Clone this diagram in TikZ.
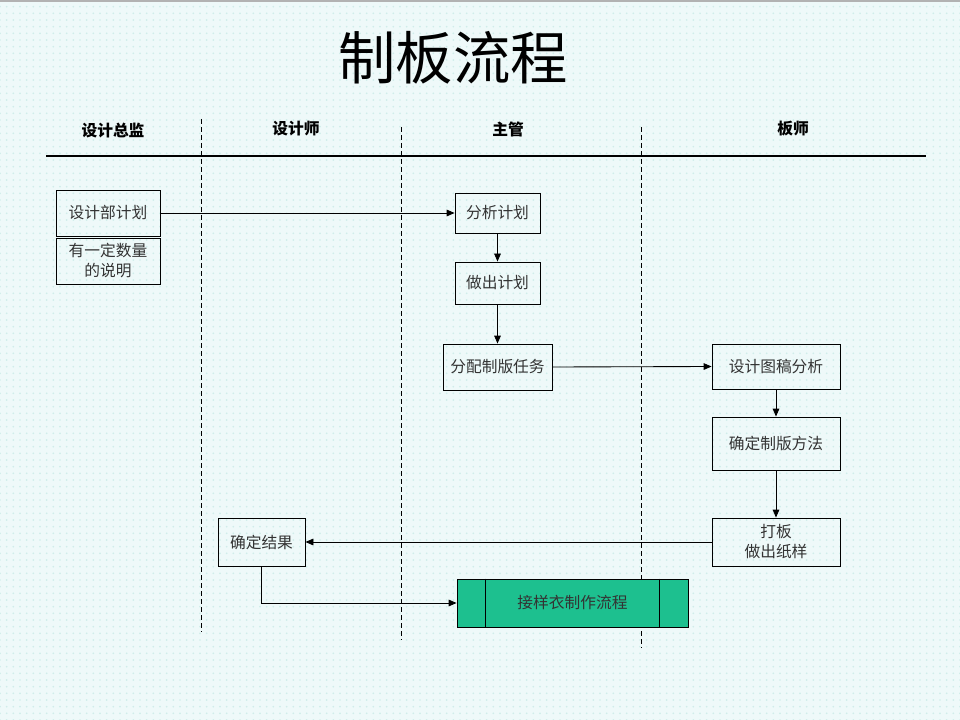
\documentclass[tikz,border=0pt]{standalone}
\usepackage{fontspec}
\newfontfamily\cjk{Noto Sans CJK SC}
\usetikzlibrary{arrows.meta,patterns.meta}
\definecolor{bgc}{HTML}{EEF9F9}
\definecolor{dotc}{HTML}{CFEDEA}
\definecolor{greenbox}{HTML}{1DC08F}
\tikzset{
  stepbox/.style={draw=black, line width=0.65pt, inner sep=0pt, font=\cjk\fontsize{11.8}{15}\selectfont, align=center, text=black!80},
  head/.style={font=\cjk\bfseries\fontsize{11.8}{14}\selectfont},
  lane/.style={dashed, line width=0.7pt, dash pattern=on 3.5pt off 2.5pt},
  conn/.style={line width=0.65pt, -{Triangle[length=6pt,width=5pt]}},
}
\begin{document}
\begin{tikzpicture}[x=0.75pt,y=-0.75pt]
\useasboundingbox (0,0) rectangle (960,720);
\fill[bgc] (0,0) rectangle (960,720);
\fill[pattern={Dots[distance=5pt,radius=0.7pt]}, pattern color=dotc] (0,0) rectangle (960,720);
\fill[gray!60] (0,0) rectangle (960,2);
% title
\node[font=\cjk\fontsize{43}{47}\selectfont] (title) at (453,58) {制板流程};
% headers
\node[head] (h1) at (113,131) {设计总监};
\node[head] (h2) at (296,129) {设计师};
\node[head] (h3) at (508,129) {主管};
\node[head] (h4) at (793,129) {板师};
\draw[line width=0.8pt] (46,156) -- (926,156);
\draw[lane] (201,119) -- (201,632);
\draw[lane] (401,127) -- (401,640);
\draw[lane] (641,127) -- (641,648);
% boxes
\node[stepbox, minimum width=104*0.75pt, minimum height=46*0.75pt] (a) at (108,213) {设计部计划};
\node[stepbox, minimum width=104*0.75pt, minimum height=46*0.75pt] (a2) at (108,261) {有一定数量\\的说明};
\node[stepbox, minimum width=85*0.75pt, minimum height=40*0.75pt] (b) at (497.5,213) {分析计划};
\node[stepbox, minimum width=85*0.75pt, minimum height=42*0.75pt] (c) at (497.5,283) {做出计划};
\node[stepbox, minimum width=109*0.75pt, minimum height=46*0.75pt] (d) at (497.5,367) {分配制版任务};
\node[stepbox, minimum width=128*0.75pt, minimum height=45*0.75pt] (e) at (776,366.5) {设计图稿分析};
\node[stepbox, minimum width=128*0.75pt, minimum height=53*0.75pt] (f) at (776,443.5) {确定制版方法};
\node[stepbox, minimum width=128*0.75pt, minimum height=48*0.75pt] (g) at (776,542) {打板\\做出纸样};
\node[stepbox, minimum width=87*0.75pt, minimum height=48*0.75pt] (h) at (261.5,542) {确定结果};
\node[stepbox, fill=greenbox, minimum width=231*0.75pt, minimum height=48*0.75pt] (i) at (572.5,603) {接样衣制作流程};
\draw[line width=0.65pt] ([xshift=29*0.75pt]i.north west) -- ([xshift=29*0.75pt]i.south west);
\draw[line width=0.65pt] ([xshift=-29*0.75pt]i.north east) -- ([xshift=-29*0.75pt]i.south east);
% connectors
\draw[conn] (a.east) -- (b.west);
\draw[conn] (b.south) -- (c.north);
\draw[conn] (c.south) -- (d.north);
\draw[conn] (d.east) -- (e.west);
\draw[conn] (e.south) -- (f.north);
\draw[conn] (f.south) -- (g.north);
\draw[conn] (g.west) -- (h.east);
\draw[conn] (h.south) |- (i.west);
\end{tikzpicture}
\end{document}
